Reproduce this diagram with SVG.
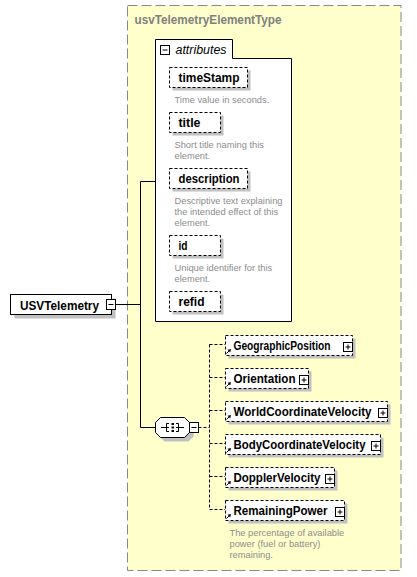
<svg xmlns="http://www.w3.org/2000/svg" width="417" height="577" viewBox="0 0 417 577">
<style>
.lbl{font-family:"Liberation Sans",Arial,sans-serif;font-weight:bold;font-size:12.5px;fill:#000}
.title{font-family:"Liberation Sans",Arial,sans-serif;font-weight:bold;font-size:12px;fill:#808080}
.desc{font-family:"Liberation Sans",Arial,sans-serif;font-size:9.3px;fill:#8c8c8c}
.ital{font-family:"Liberation Sans",Arial,sans-serif;font-style:italic;font-size:12px;fill:#000}
.box{fill:#fff;stroke:#000;stroke-width:1}
.dbox{fill:#fff;stroke:#000;stroke-width:1;stroke-dasharray:3,2}
.shadow{fill:#c0c0c0}
.ln{fill:none;stroke:#000;stroke-width:1}
.dln{fill:none;stroke:#000;stroke-width:1;stroke-dasharray:3,2}
.btn{fill:#fff;stroke:#000;stroke-width:1}
</style>
<defs>
<g id="refArrow">
<path d="M1.5,5.5 L4.5,2.5" stroke="#000" stroke-width="1" fill="none"/>
<polygon points="6,1 2.6,1.8 5.2,4.4" fill="#000"/>
</g>
<g id="plus">
<rect x="0.5" y="0.5" width="9" height="9" class="btn"/>
<path d="M2.5,5 H7.5 M5,2.5 V7.5" stroke="#000" stroke-width="1"/>
</g>
</defs>

<g id="type-container">
<rect x="127.5" y="5.5" width="273.5" height="565" fill="#ffffcc" stroke="#888" stroke-width="1" stroke-dasharray="10,4"/>
<text class="title" x="134.5" y="24" textLength="147" lengthAdjust="spacingAndGlyphs">usvTelemetryElementType</text>
</g>

<g id="connectors">
<path class="ln" d="M115.5,304.5 H140.5 M140.5,181.5 V427.5 M140.5,181.5 H155.5 M140.5,427.5 H155.5"/>
<path class="dln" d="M198.5,427.5 H209.5 M209.5,344.5 V509.5 M209.5,344.5 H225 M209.5,377.5 H225 M209.5,410.5 H225 M209.5,443.5 H225 M209.5,476.5 H225 M209.5,509.5 H225"/>
</g>

<g id="USVTelemetry">
<rect class="shadow" x="14.5" y="298.5" width="101" height="20"/>
<rect class="box" x="10.5" y="294.5" width="101" height="20"/>
<text class="lbl" x="20" y="309.5" textLength="79" lengthAdjust="spacingAndGlyphs">USVTelemetry</text>
<rect class="btn" x="106.5" y="299.5" width="9" height="10"/>
<path d="M108.5,304.5 H113.5" stroke="#000" stroke-width="1"/>
</g>

<g id="attributes">
<path d="M155.5,321.5 V39.5 H232.5 V58.5 H291.5 V321.5 Z" class="box"/>
<rect class="btn" x="160.5" y="45.5" width="9" height="9"/>
<path d="M162.5,50 H167.5" stroke="#000" stroke-width="1"/>
<text class="ital" x="175.5" y="53.5" textLength="51" lengthAdjust="spacingAndGlyphs">attributes</text>
</g>

<g id="attr-timeStamp">
<rect class="shadow" x="172.5" y="70.5" width="78" height="20"/>
<rect class="dbox" x="169.5" y="67.5" width="78" height="20"/>
<text class="lbl" x="178.5" y="82" textLength="61" lengthAdjust="spacingAndGlyphs">timeStamp</text>
<text class="desc" x="174.5" y="102.5">Time value in seconds.</text>
</g>

<g id="attr-title">
<rect class="shadow" x="172.5" y="115.5" width="51" height="20"/>
<rect class="dbox" x="169.5" y="112.5" width="51" height="20"/>
<text class="lbl" x="178.5" y="127" textLength="22" lengthAdjust="spacingAndGlyphs">title</text>
<text class="desc" x="174.5" y="148">Short title naming this</text>
<text class="desc" x="174.5" y="159">element.</text>
</g>

<g id="attr-description">
<rect class="shadow" x="172.5" y="171.5" width="78" height="20"/>
<rect class="dbox" x="169.5" y="168.5" width="78" height="20"/>
<text class="lbl" x="178.5" y="183" textLength="61" lengthAdjust="spacingAndGlyphs">description</text>
<text class="desc" x="174.5" y="204">Descriptive text explaining</text>
<text class="desc" x="174.5" y="215">the intended effect of this</text>
<text class="desc" x="174.5" y="226">element.</text>
</g>

<g id="attr-id">
<rect class="shadow" x="172.5" y="238.5" width="51" height="20"/>
<rect class="dbox" x="169.5" y="235.5" width="51" height="20"/>
<text class="lbl" x="178.5" y="250" textLength="9" lengthAdjust="spacingAndGlyphs">id</text>
<text class="desc" x="174.5" y="271">Unique identifier for this</text>
<text class="desc" x="174.5" y="282">element.</text>
</g>

<g id="attr-refid">
<rect class="shadow" x="172.5" y="294.5" width="51" height="20"/>
<rect class="dbox" x="169.5" y="291.5" width="51" height="20"/>
<text class="lbl" x="178.5" y="306" textLength="26" lengthAdjust="spacingAndGlyphs">refid</text>
</g>

<g id="sequence">
<polygon class="shadow" points="164.5,421.5 188.5,421.5 193.5,426.5 193.5,436.5 188.5,441.5 164.5,441.5 159.5,436.5 159.5,426.5"/>
<polygon class="box" points="160.5,417.5 184.5,417.5 189.5,422.5 189.5,432.5 184.5,437.5 160.5,437.5 155.5,432.5 155.5,422.5"/>
<path class="ln" d="M161,427.5 H169 M166.5,423.5 V431.5 M166.5,423.5 H169 M166.5,431.5 H169 M178.5,423.5 V431.5 M176,423.5 H178.5 M176,431.5 H178.5 M176,427.5 H184"/>
<rect x="171.5" y="423" width="2.5" height="2" fill="#000"/>
<rect x="171.5" y="426.5" width="2.5" height="2" fill="#000"/>
<rect x="171.5" y="430" width="2.5" height="2" fill="#000"/>
<rect class="btn" x="189.5" y="422.5" width="9" height="10"/>
<path d="M191.5,427.5 H196.5" stroke="#000" stroke-width="1"/>
</g>

<g id="GeographicPosition">
<rect class="shadow" x="228.5" y="338.5" width="127" height="20"/>
<rect class="dbox" x="225.5" y="335.5" width="127" height="20"/>
<use href="#refArrow" x="225" y="348"/>
<text class="lbl" x="233.5" y="350" textLength="97" lengthAdjust="spacingAndGlyphs">GeographicPosition</text>
<use href="#plus" x="343" y="342"/>
</g>

<g id="Orientation">
<rect class="shadow" x="228.5" y="371.5" width="83" height="20"/>
<rect class="dbox" x="225.5" y="368.5" width="83" height="20"/>
<use href="#refArrow" x="225" y="381"/>
<text class="lbl" x="233.5" y="383" textLength="62" lengthAdjust="spacingAndGlyphs">Orientation</text>
<use href="#plus" x="299" y="375"/>
</g>

<g id="WorldCoordinateVelocity">
<rect class="shadow" x="228.5" y="404.5" width="162" height="20"/>
<rect class="dbox" x="225.5" y="401.5" width="162" height="20"/>
<use href="#refArrow" x="225" y="414"/>
<text class="lbl" x="233.5" y="416" textLength="138" lengthAdjust="spacingAndGlyphs">WorldCoordinateVelocity</text>
<use href="#plus" x="378" y="408"/>
</g>

<g id="BodyCoordinateVelocity">
<rect class="shadow" x="228.5" y="437.5" width="155" height="20"/>
<rect class="dbox" x="225.5" y="434.5" width="155" height="20"/>
<use href="#refArrow" x="225" y="447"/>
<text class="lbl" x="233.5" y="449" textLength="132" lengthAdjust="spacingAndGlyphs">BodyCoordinateVelocity</text>
<use href="#plus" x="371" y="441"/>
</g>

<g id="DopplerVelocity">
<rect class="shadow" x="228.5" y="470.5" width="109" height="20"/>
<rect class="dbox" x="225.5" y="467.5" width="109" height="20"/>
<use href="#refArrow" x="225" y="480"/>
<text class="lbl" x="233.5" y="482" textLength="87" lengthAdjust="spacingAndGlyphs">DopplerVelocity</text>
<use href="#plus" x="325" y="474"/>
</g>

<g id="RemainingPower">
<rect class="shadow" x="228.5" y="503.5" width="119" height="20"/>
<rect class="dbox" x="225.5" y="500.5" width="119" height="20"/>
<use href="#refArrow" x="225" y="513"/>
<text class="lbl" x="233.5" y="515" textLength="94" lengthAdjust="spacingAndGlyphs">RemainingPower</text>
<use href="#plus" x="335" y="507"/>
<text class="desc" x="229.5" y="536">The percentage of available</text>
<text class="desc" x="229.5" y="547">power (fuel or battery)</text>
<text class="desc" x="229.5" y="558">remaining.</text>
</g>
</svg>
